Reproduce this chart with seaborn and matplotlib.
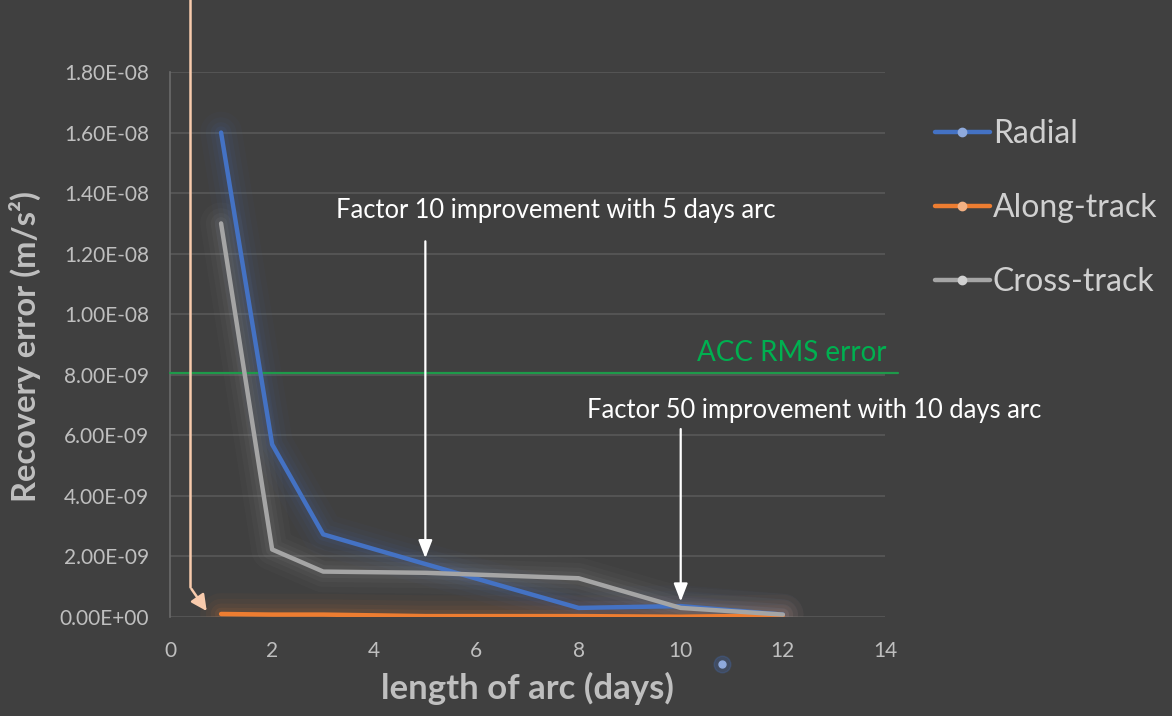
import matplotlib
matplotlib.use("Agg")
import matplotlib.pyplot as plt
import seaborn as sns
import pandas as pd
from matplotlib.ticker import FuncFormatter
from matplotlib.lines import Line2D

# ---- data ----
days = [1, 2, 3, 5, 8, 10, 12]
radial = [1.60e-8, 5.70e-9, 2.73e-9, 1.75e-9, 0.30e-9, 0.36e-9, 0.08e-9]
along_track = [1.0e-10, 0.8e-10, 0.8e-10, 0.3e-10, 0.3e-10, 0.1e-10, 0.5e-10]
cross_track = [1.30e-8, 2.23e-9, 1.50e-9, 1.46e-9, 1.28e-9, 0.30e-9, 0.08e-9]
series_names = ["Radial", "Along-track", "Cross-track"]
series_colors = ["#4472C4", "#ED7D31", "#A5A5A5"]
marker_colors = ["#8FAADC", "#F4B183", "#D0D0D0"]
acc_rms = 8.06e-9
y_ticks = [0, 2e-9, 4e-9, 6e-9, 8e-9, 1e-8, 1.2e-8, 1.4e-8, 1.6e-8, 1.8e-8]
x_ticks = [0, 2, 4, 6, 8, 10, 12, 14]
ann1_x, ann1_y = 5, 1.85e-9
ann2_x, ann2_y = 10, 0.42e-9

df = pd.DataFrame({
    "days": days * 3,
    "value": radial + along_track + cross_track,
    "series": sum([[n] * len(days) for n in series_names], []),
})

BG = "#404040"
sns.set_theme(style="dark")
plt.rcParams["font.family"] = ["Lato", "DejaVu Sans"]

fig = plt.figure(figsize=(11.72, 7.16), dpi=100, facecolor=BG)
ax = fig.add_axes([170 / 1172, 1 - 617 / 716, (885 - 170) / 1172, (617 - 72) / 716])
ax.set_facecolor(BG)

# glow
for name, col in zip(series_names, series_colors):
    sub = df[df.series == name]
    for lw, a in [(30, 0.035), (22, 0.045), (15, 0.06), (9, 0.08)]:
        ax.plot(sub.days, sub.value, color=col, lw=lw, alpha=a,
                solid_capstyle="round", solid_joinstyle="round", zorder=2)

sns.lineplot(data=df, x="days", y="value", hue="series", hue_order=series_names,
             palette=series_colors, lw=3.2, ax=ax, legend=False, zorder=4)
for ln in ax.lines[-3:]:
    ln.set_solid_capstyle("round")

ax.set_xlim(0, 14)
ax.set_ylim(0, 1.8e-8)
ax.set_xticks(x_ticks)
ax.set_yticks(y_ticks)
ax.yaxis.set_major_formatter(FuncFormatter(lambda v, p: f"{v:.2E}"))
ax.grid(axis="y", color="#595959", lw=1.2)
ax.grid(axis="x", visible=False)
for s in ["top", "right", "bottom"]:
    ax.spines[s].set_visible(False)
ax.spines["left"].set_color("#6b6b6b")
ax.spines["left"].set_linewidth(1.2)
ax.tick_params(axis="both", colors="#BFBFBF", labelsize=15, length=0)
ax.tick_params(axis="y", pad=15)
ax.tick_params(axis="x", pad=17)

ax.set_xlabel("length of arc (days)", fontsize=25, fontweight="bold", color="#BFBFBF", labelpad=8)
ax.set_ylabel("Recovery error (m/s²)", fontsize=23.5, fontweight="bold", color="#BFBFBF")
ax.yaxis.set_label_coords(-129 / 715, 0.5 - (347 - 344.5) / 545)

# ACC RMS line
ax.plot([0, 14.25], [acc_rms, acc_rms], color="#1E9A4A", lw=1.6, clip_on=False, zorder=3)
ax.text(14.03, acc_rms + 0.22e-9, "ACC RMS error", color="#00B050", fontsize=20,
        ha="right", va="bottom")

# annotations
ax.annotate("", xy=(ann1_x, ann1_y), xytext=(ann1_x, 1.25e-8),
            arrowprops=dict(arrowstyle="-|>,head_length=0.9,head_width=0.35", color="white", lw=1.6))
ax.text(7.55, 1.30e-8, "Factor 10 improvement with 5 days arc", color="white",
        fontsize=18.4, ha="center", va="bottom")
ax.annotate("", xy=(ann2_x, ann2_y), xytext=(ann2_x, 6.3e-9),
            arrowprops=dict(arrowstyle="-|>,head_length=0.9,head_width=0.35", color="white", lw=1.6))
ax.text(12.62, 6.4e-9, "Factor 50 improvement with 10 days arc", color="white",
        fontsize=18.4, ha="center", va="bottom", clip_on=False)

# peach pointer arrow
ax.plot([0.39, 0.39], [1.0e-9, 2.05e-8], color="#F8CBAD", lw=1.8, clip_on=False, zorder=5)
ax.annotate("", xy=(0.75, 0.12e-9), xytext=(0.39, 1.0e-9),
            arrowprops=dict(arrowstyle="-|>,head_length=0.8,head_width=0.4", color="#F8CBAD", lw=1.8),
            annotation_clip=False)

# stray marker below axis
ax.plot([10.8], [-1.55e-9], "o", color="#8FAADC", ms=5, clip_on=False, zorder=6)
ax.plot([10.8], [-1.55e-9], "o", color="#4472C4", ms=12, alpha=0.25, clip_on=False, zorder=5)

# legend
handles = [Line2D([0], [0], color=c, lw=3.2, marker="o", markersize=6,
                  markerfacecolor=m, markeredgecolor=m) for c, m in zip(series_colors, marker_colors)]
leg = fig.legend(handles, series_names, loc="upper left", bbox_to_anchor=(906 / 1172, 1 - 90 / 716),
                 frameon=False, fontsize=23, handlelength=1.72, handletextpad=0.1, labelspacing=1.38,
                 labelcolor="#D0D0D0")

fig.savefig("out.png", dpi=100, facecolor=BG)
